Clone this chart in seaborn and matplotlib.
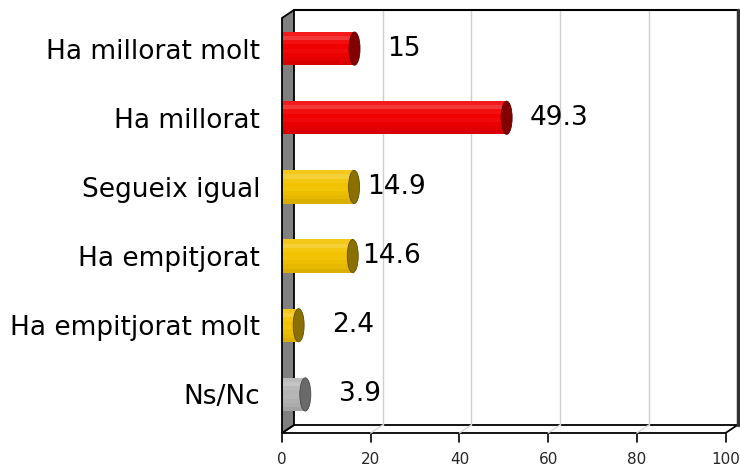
import numpy as np
import pandas as pd
import matplotlib
matplotlib.use('Agg')
import matplotlib.pyplot as plt
import matplotlib.colors as mcolors
import seaborn as sns
from matplotlib.patches import Polygon, Ellipse, Rectangle

# dades del gràfic
categories = ['Ha millorat molt', 'Ha millorat', 'Segueix igual',
              'Ha empitjorat', 'Ha empitjorat molt', 'Ns/Nc']
values = [15, 49.3, 14.9, 14.6, 2.4, 3.9]
xticks = [0, 20, 40, 60, 80, 100]

# estil
bar_colors = ['#f00000', '#f00000', '#f2c200', '#f2c200', '#f2c200', '#b4b4b4']
cap_colors = ['#820000', '#820000', '#8a7000', '#8a7000', '#8a7000', '#6a6a6a']
label_dx = [27, 18, 8, 4, 28, 28]   # px entre el final de la barra i l'etiqueta

W, H = 740, 467
sns.set_theme(style='white')
plt.rcParams['font.family'] = ['DejaVu Sans']

fig = plt.figure(figsize=(W / 100, H / 100), dpi=100)
bg = fig.add_axes([0, 0, 1, 1], zorder=0)
bg.set_xlim(0, W)
bg.set_ylim(H, 0)
bg.axis('off')

ax = fig.add_axes([288 / W, 1 - 429 / H, 443.5 / W, 415 / H], zorder=1)
ax.patch.set_alpha(0)

df = pd.DataFrame({'cat': categories, 'val': values})
sns.barplot(data=df, x='val', y='cat', hue='cat', palette=bar_colors,
            legend=False, width=0.48, saturation=1, edgecolor='none', ax=ax)
ax.set_xlim(0, 100)
ax.set_ylim(5.5, -0.5)
ax.set_xticks([])
ax.set_xlabel('')
ax.set_ylabel('')
for s in ax.spines.values():
    s.set_visible(False)
ax.tick_params(axis='y', left=False, length=0, pad=20, labelsize=19, colors='black')


def px(x, y):
    d = ax.transData.transform((x, y))
    return d[0], H - d[1]


def mix(c, t, f):
    a = np.array(mcolors.to_rgb(c))
    b = np.array(mcolors.to_rgb(t))
    return tuple(a * (1 - f) + b * f)


x0, ytop = px(0, -0.5)
x100, ybot = px(100, 5.5)
dx, dy = 6, 4   # profunditat

# pla del fons
for t in xticks[1:-1]:
    xt = px(t, 0)[0]
    bg.plot([xt + dx, xt + dx], [ytop - dy, ybot - dy], color='#cfcfcf', lw=1)
bg.plot([x0 + dx, x100 + dx], [ytop - dy, ytop - dy], color='black', lw=1.5)
bg.plot([x100 + dx, x100 + dx], [ytop - dy, ybot - dy], color='#333333', lw=2.5)

# terra
floor = Polygon([(x0 - dx, ybot + dy), (x100 - dx, ybot + dy),
                 (x100 + dx, ybot - dy), (x0 + dx, ybot - dy)],
                closed=True, facecolor='white', edgecolor='black', lw=1.3)
bg.add_patch(floor)
for t in xticks[1:-1]:
    xt = px(t, 0)[0]
    bg.plot([xt - dx, xt + dx], [ybot + dy, ybot - dy], color='#d8d8d8', lw=1, zorder=3)

# paret esquerra
wall = Polygon([(x0 - dx, ytop + dy), (x0 + dx, ytop - dy),
                (x0 + dx, ybot - dy), (x0 - dx, ybot + dy)],
               closed=True, facecolor='#808080', edgecolor='black', lw=1.3, zorder=4)
bg.add_patch(wall)

# marques de l'eix x al davant
for t in xticks:
    xt = px(t, 0)[0] - dx
    bg.plot([xt, xt], [ybot + dy, ybot + dy + 9], color='black', lw=1.2)
    bg.text(xt, ybot + dy + 27, str(t), ha='center', va='center', fontsize=11)

# cilindres
unit = 1 / (px(1, 0)[0] - px(0, 0)[0])   # unitats de dades per px
left = -(dx - 1) * unit
shade = [('white', 0.10), ('white', 0.22), ('white', 0.06), ('white', 0.0),
         ('white', 0.03), ('black', 0.02), ('black', 0.05), ('black', 0.10)]
bars = [p for p in ax.patches if isinstance(p, Rectangle)]
for i, p in enumerate(bars):
    v = values[i]
    yb = p.get_y()
    h = p.get_height()
    p.set_x(left)
    p.set_width(v - left)
    p.set_clip_on(False)
    n = len(shade)
    for k, (tc, f) in enumerate(shade):
        ax.add_patch(Rectangle((left, yb + k * h / n), v - left, h / n, clip_on=False,
                               facecolor=mix(bar_colors[i], tc, f), edgecolor='none', zorder=3))
    ax.add_patch(Ellipse((v, yb + h / 2), 11 * unit, h, facecolor=cap_colors[i], clip_on=False,
                         edgecolor=mix(cap_colors[i], 'black', 0.3), lw=0.6, zorder=4))
    ax.text(v + (5.5 + label_dx[i]) * unit, yb + h / 2, f'{v:g}', ha='left', va='center',
            fontsize=19, color='black', zorder=5)

fig.savefig('out.png', dpi=100)
